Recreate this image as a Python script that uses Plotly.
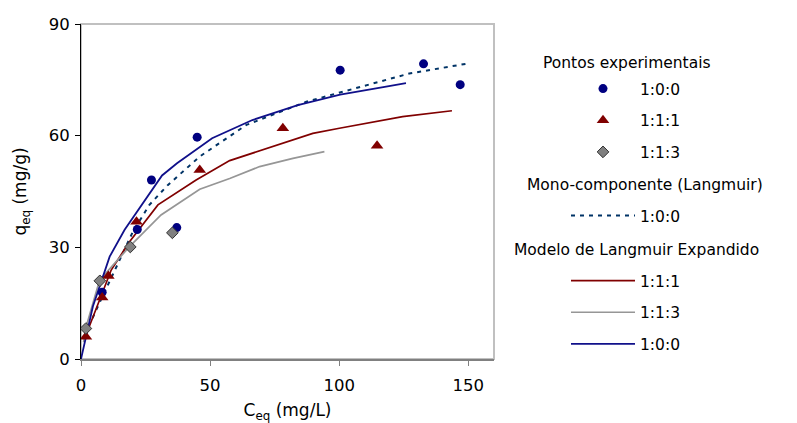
import plotly.graph_objects as go

# ---- experimental points ----
exp_100_x = [8.2, 21.8, 27.3, 37.1, 45.0, 100.4, 132.7, 146.9]
exp_100_y = [17.9, 34.8, 48.1, 35.3, 59.6, 77.6, 79.3, 73.7]

exp_111_x = [1.9, 8.2, 10.6, 21.5, 46.0, 78.2, 114.7]
exp_111_y = [6.0, 16.5, 22.3, 36.9, 50.8, 62.0, 57.3]

exp_113_x = [1.9, 7.3, 19.1, 35.4]
exp_113_y = [8.2, 21.0, 30.1, 33.9]

# ---- mono-component Langmuir 1:0:0 (dotted) ----
mono_x = [4.5, 5.9, 20.1, 26.5, 33.6, 46.0, 64.1, 75.6, 87.3, 101.4, 127.2, 149.1]
mono_y = [11.0, 13.2, 34.2, 41.4, 46.7, 54.4, 62.9, 66.0, 69.1, 71.8, 76.7, 79.3]

# ---- expanded Langmuir model ----
mod_111_x = [1.4, 7.8, 11.7, 18.8, 29.8, 44.6, 57.6, 89.8, 100.1, 124.6, 143.7]
mod_111_y = [5.5, 17.2, 23.9, 31.5, 41.4, 48.1, 53.3, 60.6, 62.0, 65.1, 66.7]

mod_113_x = [1.0, 2.0, 7.2, 18.8, 31.0, 46.0, 57.6, 69.2, 82.1, 94.3]
mod_113_y = [4.5, 8.7, 21.2, 30.2, 38.7, 45.6, 48.5, 51.7, 53.9, 55.7]

mod_100_x = [0.0, 4.6, 11.1, 16.9, 31.4, 37.2, 50.8, 66.4, 84.0, 100.4, 118.2, 125.9]
mod_100_y = [0.0, 14.1, 27.5, 34.7, 49.3, 52.6, 59.3, 64.2, 68.2, 71.0, 73.2, 74.1]

x_ticks = [0, 50, 100, 150]
y_ticks = [0, 30, 60, 90]

NAVY = "#000080"
DRED = "#800000"
GRAY = "#808080"
FONT = "DejaVu Sans, Verdana, sans-serif"
FS_LEG = 15.5
FS_TICK = 16.5
FS_TITLE = 17

fig = go.Figure()

# model lines first (below markers)
fig.add_trace(go.Scatter(x=mono_x, y=mono_y, mode="lines", name="1:0:0",
                         line=dict(color="#003366", width=2, dash="4px,5px"),
                         legend="legend2", legendgroup="m"))
fig.add_trace(go.Scatter(x=mod_111_x, y=mod_111_y, mode="lines", name="1:1:1",
                         line=dict(color=DRED, width=1.7),
                         legend="legend3", legendgroup="a"))
fig.add_trace(go.Scatter(x=mod_113_x, y=mod_113_y, mode="lines", name="1:1:3",
                         line=dict(color="#969696", width=1.7),
                         legend="legend3", legendgroup="b"))
fig.add_trace(go.Scatter(x=mod_100_x, y=mod_100_y, mode="lines", name="1:0:0",
                         line=dict(color="#10108a", width=1.8),
                         legend="legend3", legendgroup="c"))

fig.add_trace(go.Scatter(x=exp_100_x, y=exp_100_y, mode="markers", name="1:0:0",
                         marker=dict(symbol="circle", size=9, color=NAVY),
                         legend="legend", legendgroup="p1"))
fig.add_trace(go.Scatter(x=exp_111_x, y=exp_111_y, mode="markers", name="1:1:1",
                         marker=dict(symbol="triangle-up", size=11, color=DRED),
                         legend="legend", legendgroup="p2"))
fig.add_trace(go.Scatter(x=exp_113_x, y=exp_113_y, mode="markers", name="1:1:3",
                         marker=dict(symbol="diamond", size=9, color=GRAY,
                                     line=dict(color="#333333", width=1)),
                         legend="legend", legendgroup="p3"))

L, R, T, B = 81, 303, 24, 64
W, H = 797, 423
pw, ph = W - L - R, H - T - B


def px_x(p):
    return (p - L) / pw


def px_y(p):
    return (H - B - p) / ph


leg_common = dict(font=dict(family=FONT, size=FS_LEG, color="black"),
                  bgcolor="rgba(0,0,0,0)", itemwidth=64, tracegroupgap=8.5,
                  xanchor="left", yanchor="top", traceorder="grouped",
                  itemclick=False, itemdoubleclick=False)

fig.update_layout(
    width=W, height=H,
    margin=dict(l=L, r=R, t=T, b=B, autoexpand=False),
    paper_bgcolor="white", plot_bgcolor="white",
    font=dict(family=FONT, size=FS_TICK, color="black"),
    showlegend=True,
    legend=dict(x=px_x(566), y=px_y(72), **leg_common),
    legend2=dict(x=px_x(566), y=px_y(199), **leg_common),
    legend3=dict(x=px_x(566), y=px_y(264), **leg_common),
    xaxis=dict(range=[0, 160], tickvals=x_ticks, ticktext=[str(v) for v in x_ticks],
               automargin=False,
               showgrid=False, zeroline=False, showline=True, linecolor="#808080",
               linewidth=2, ticks="outside", ticklen=5, tickcolor="#808080",
               ticklabelstandoff=5, tickfont=dict(family=FONT, size=FS_TICK),
               title=dict(text="C<sub>eq</sub> (mg/L)", standoff=12,
                          font=dict(family=FONT, size=FS_TITLE))),
    yaxis=dict(range=[0, 90], tickvals=y_ticks, ticktext=[str(v) for v in y_ticks],
               automargin=False,
               showgrid=False, zeroline=False, showline=True, linecolor="black",
               linewidth=1, ticks="outside", ticklen=5, tickcolor="black",
               ticklabelstandoff=2, tickfont=dict(family=FONT, size=FS_TICK),
               title=dict(text="q<sub>eq</sub> (mg/g)", standoff=17,
                          font=dict(family=FONT, size=FS_TITLE))),
    shapes=[dict(type="rect", xref="paper", yref="paper", x0=0, y0=0, x1=1, y1=1,
                 line=dict(color="#c0c0c0", width=2), layer="below")],
    annotations=[
        dict(text="Pontos experimentais", x=px_x(541), y=px_y(63), xref="paper", yref="paper",
             xanchor="left", yanchor="middle", showarrow=False,
             font=dict(family=FONT, size=FS_LEG)),
        dict(text="Mono-componente (Langmuir)", x=px_x(525), y=px_y(185), xref="paper", yref="paper",
             xanchor="left", yanchor="middle", showarrow=False,
             font=dict(family=FONT, size=FS_LEG)),
        dict(text="Modelo de Langmuir Expandido", x=px_x(512), y=px_y(250), xref="paper", yref="paper",
             xanchor="left", yanchor="middle", showarrow=False,
             font=dict(family=FONT, size=FS_LEG)),
    ],
)

fig.write_html("out.html", config={"displayModeBar": False},
               post_script="document.body.style.margin='0';")
